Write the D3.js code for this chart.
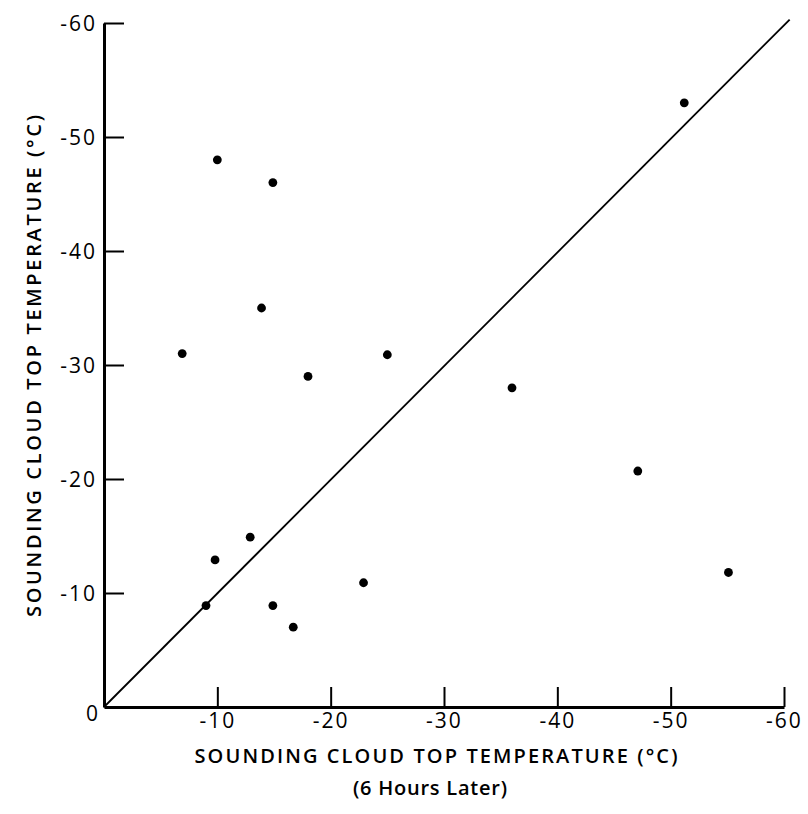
<!DOCTYPE html>
<html>
<head>
<meta charset="utf-8">
<script src="https://cdn.jsdelivr.net/npm/d3@7"></script>
<style>
  html, body { margin: 0; padding: 0; background: #fff; }
  svg { display: block; }
  text { font-family: "Open Sans", "DejaVu Sans", sans-serif; fill: #000; }
</style>
</head>
<body>
<svg id="chart" width="808" height="814"></svg>
<script>
// Data (°C)
const laterTemps   = [-51.2, -10.0, -14.9, -13.9, -6.9, -25.0, -18.0, -36.0, -47.1, -55.1, -12.9, -9.8, -22.9, -9.0, -14.9, -16.7];
const soundingTemps = [-53.0, -48.0, -46.0, -35.0, -31.0, -30.9, -29.0, -28.0, -20.7, -11.8, -14.9, -12.9, -10.9, -8.9, -8.9, -7.0];
const xTicks = [-10, -20, -30, -40, -50, -60];
const yTicks = [-10, -20, -30, -40, -50, -60];
const diagonal = [[0, 0], [-60.5, -60.3]];
const xTitle = "SOUNDING CLOUD TOP TEMPERATURE (°C)";
const xSubTitle = "(6 Hours Later)";
const yTitle = "SOUNDING CLOUD TOP TEMPERATURE (°C)";

const svg = d3.select("#chart");
const x = d3.scaleLinear().domain([0, -60]).range([104, 784]);
const y = d3.scaleLinear().domain([0, -60]).range([707, 23]);
const fmt = d => "-" + Math.abs(d);

// Y axis
const yAxis = d3.axisLeft(y).tickValues(yTicks).tickSizeInner(-20).tickSizeOuter(0).tickPadding(7).tickFormat(fmt);
const gy = svg.append("g").attr("transform", `translate(${x(0)},0)`).call(yAxis);
gy.select(".domain").attr("stroke", "#000").attr("stroke-width", 3);
gy.selectAll(".tick line").attr("stroke", "#000").attr("stroke-width", 2);
gy.selectAll(".tick text").attr("font-size", 21).attr("font-weight", 500).attr("letter-spacing", 2)
  .attr("font-family", "'Open Sans', sans-serif").attr("fill", "#000").attr("dy", "0.36em");

// X axis
const xAxis = d3.axisBottom(x).tickValues(xTicks).tickSizeInner(-20).tickSizeOuter(0).tickPadding(6).tickFormat(fmt);
const gx = svg.append("g").attr("transform", `translate(0,${y(0)})`).call(xAxis);
gx.select(".domain").attr("stroke", "#000").attr("stroke-width", 3);
gx.selectAll(".tick line").attr("stroke", "#000").attr("stroke-width", 2);
gx.selectAll(".tick text").attr("font-size", 21).attr("font-weight", 500).attr("letter-spacing", 2)
  .attr("font-family", "'Open Sans', sans-serif").attr("fill", "#000");

// origin label
svg.append("text").attr("x", x(0) - 12).attr("y", y(0) + 14).attr("text-anchor", "middle")
  .attr("font-size", 21).attr("font-weight", 500).text("0");

// diagonal 1:1 line
svg.append("path").datum(diagonal)
  .attr("d", d3.line().x(d => x(d[0])).y(d => y(d[1])))
  .attr("fill", "none").attr("stroke", "#000").attr("stroke-width", 1.8);

// points
svg.append("g").selectAll("circle").data(laterTemps.map((v, i) => [v, soundingTemps[i]]))
  .join("circle")
  .attr("cx", d => x(d[0])).attr("cy", d => y(d[1])).attr("r", 4.4).attr("fill", "#000");

// titles
svg.append("text").attr("x", 436).attr("y", 763).attr("text-anchor", "middle")
  .attr("font-size", 20).attr("font-weight", 600).attr("textLength", 483).attr("lengthAdjust", "spacing")
  .text(xTitle);
svg.append("text").attr("x", 430).attr("y", 795).attr("text-anchor", "middle")
  .attr("font-size", 20).attr("font-weight", 600).attr("textLength", 154).attr("lengthAdjust", "spacing")
  .text(xSubTitle);
svg.append("text").attr("transform", "translate(41,366) rotate(-90)").attr("text-anchor", "middle")
  .attr("font-size", 20).attr("font-weight", 600).attr("textLength", 502).attr("lengthAdjust", "spacing")
  .text(yTitle);
</script>
</body>
</html>
